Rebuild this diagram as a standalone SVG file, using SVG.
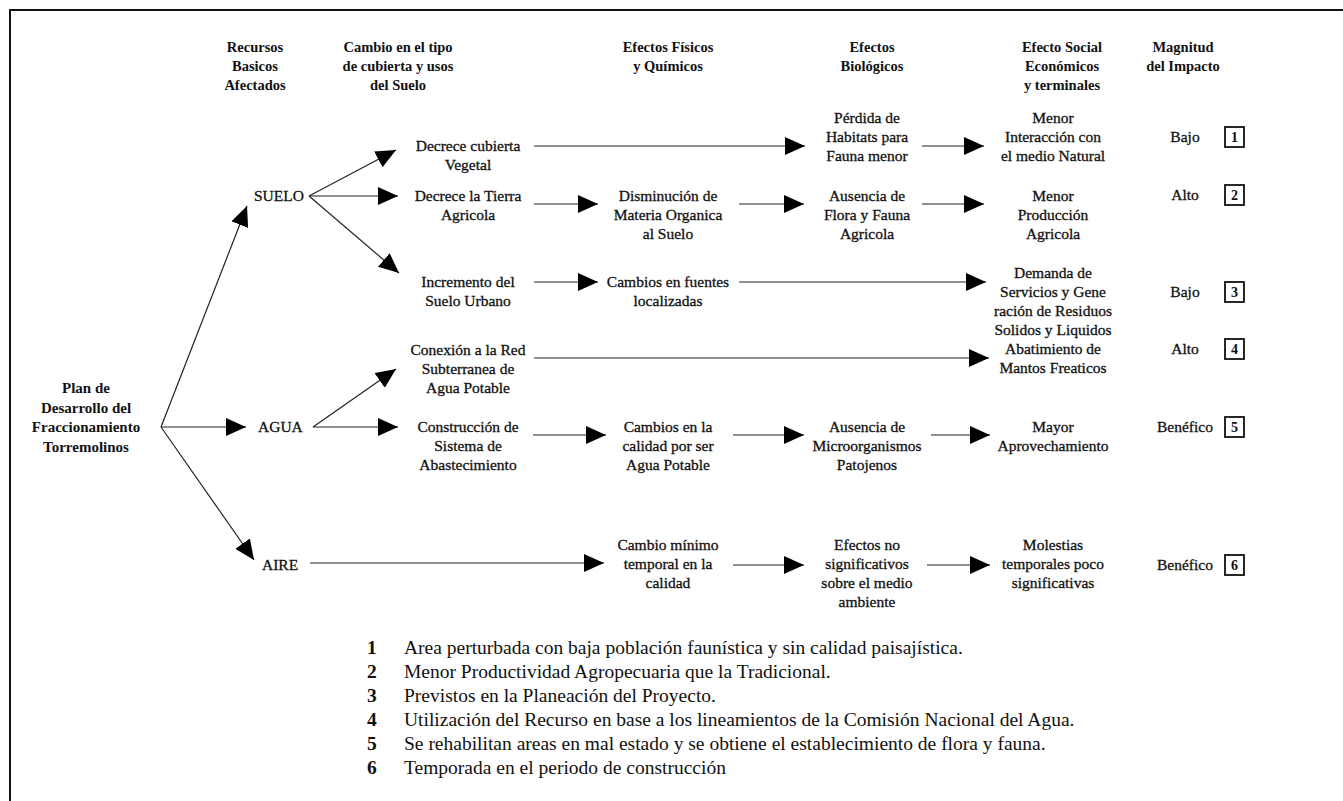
<svg xmlns="http://www.w3.org/2000/svg" width="1343" height="801" viewBox="0 0 1343 801">
<style>
text{font-family:"Liberation Serif","Times New Roman",serif;fill:#111}
.h{font-weight:bold;font-size:14.5px;text-anchor:middle}
.n{font-size:15.5px;text-anchor:middle;stroke:#111;stroke-width:0.3}
.pb{font-weight:bold;font-size:15px;text-anchor:middle}
.r{font-size:15.5px;stroke:#111;stroke-width:0.3}
.m{font-size:15.5px;text-anchor:middle;stroke:#111;stroke-width:0.3}
.bx{fill:none;stroke:#111;stroke-width:1.8}
.bn{font-size:14px;font-weight:bold;text-anchor:middle}
.c line{stroke:#222;stroke-width:1.2;fill:none;marker-end:url(#ah)}
.lg{font-size:19.5px}
.ln{font-size:19.5px;font-weight:bold}
.frame{stroke:#111;stroke-width:2;fill:none}
</style>
<defs>
<marker id="ah" markerUnits="userSpaceOnUse" markerWidth="20" markerHeight="18" refX="20" refY="9" orient="auto" viewBox="0 0 20 18"><path d="M0,0 L20,9 L0,18 z" fill="#000"/></marker>
</defs>
<rect width="1343" height="801" fill="#fff"/>
<path class="frame" d="M10,801 L10,10 L1343,10"/>

<g id="headers">
<text class="h"><tspan x="255" y="52">Recursos</tspan><tspan x="255" y="71">Basicos</tspan><tspan x="255" y="90">Afectados</tspan></text>
<text class="h"><tspan x="398" y="52">Cambio en el tipo</tspan><tspan x="398" y="71">de cubierta y usos</tspan><tspan x="398" y="90">del Suelo</tspan></text>
<text class="h"><tspan x="668" y="52">Efectos Físicos</tspan><tspan x="668" y="71">y Químicos</tspan></text>
<text class="h"><tspan x="872" y="52">Efectos</tspan><tspan x="872" y="71">Biológicos</tspan></text>
<text class="h"><tspan x="1062" y="52">Efecto Social</tspan><tspan x="1062" y="71">Económicos</tspan><tspan x="1062" y="90">y terminales</tspan></text>
<text class="h"><tspan x="1183" y="52">Magnitud</tspan><tspan x="1183" y="71">del Impacto</tspan></text>
</g>

<g id="plan"><text class="pb"><tspan x="86" y="393">Plan de</tspan><tspan x="86" y="413">Desarrollo del</tspan><tspan x="86" y="432">Fraccionamiento</tspan><tspan x="86" y="452">Torremolinos</tspan></text></g>

<g id="suelo"><text class="r" x="254" y="201">SUELO</text></g>
<g id="agua"><text class="r" x="258" y="432">AGUA</text></g>
<g id="aire"><text class="r" x="262" y="570">AIRE</text></g>

<g id="decrece-cubierta"><text class="n"><tspan x="468" y="151">Decrece cubierta</tspan><tspan x="468" y="170">Vegetal</tspan></text></g>
<g id="decrece-tierra"><text class="n"><tspan x="468" y="201">Decrece la Tierra</tspan><tspan x="468" y="220">Agricola</tspan></text></g>
<g id="incremento"><text class="n"><tspan x="468" y="287">Incremento del</tspan><tspan x="468" y="306">Suelo Urbano</tspan></text></g>
<g id="conexion"><text class="n"><tspan x="468" y="355">Conexión a la Red</tspan><tspan x="468" y="374">Subterranea de</tspan><tspan x="468" y="393">Agua Potable</tspan></text></g>
<g id="construccion"><text class="n"><tspan x="468" y="432">Construcción de</tspan><tspan x="468" y="451">Sistema de</tspan><tspan x="468" y="470">Abastecimiento</tspan></text></g>

<g id="disminucion"><text class="n"><tspan x="668" y="201">Disminución de</tspan><tspan x="668" y="220">Materia Organica</tspan><tspan x="668" y="239">al Suelo</tspan></text></g>
<g id="cambios-fuentes"><text class="n"><tspan x="668" y="287">Cambios en fuentes</tspan><tspan x="668" y="306">localizadas</tspan></text></g>
<g id="cambios-calidad"><text class="n"><tspan x="668" y="432">Cambios en la</tspan><tspan x="668" y="451">calidad por ser</tspan><tspan x="668" y="470">Agua Potable</tspan></text></g>
<g id="cambio-minimo"><text class="n"><tspan x="668" y="550">Cambio mínimo</tspan><tspan x="668" y="569">temporal en la</tspan><tspan x="668" y="588">calidad</tspan></text></g>

<g id="perdida"><text class="n"><tspan x="867" y="123">Pérdida de</tspan><tspan x="867" y="142">Habitats para</tspan><tspan x="867" y="161">Fauna menor</tspan></text></g>
<g id="ausencia-flora"><text class="n"><tspan x="867" y="201">Ausencia de</tspan><tspan x="867" y="220">Flora y Fauna</tspan><tspan x="867" y="239">Agricola</tspan></text></g>
<g id="ausencia-micro"><text class="n"><tspan x="867" y="432">Ausencia de</tspan><tspan x="867" y="451">Microorganismos</tspan><tspan x="867" y="470">Patojenos</tspan></text></g>
<g id="efectos-no"><text class="n"><tspan x="867" y="550">Efectos no</tspan><tspan x="867" y="569">significativos</tspan><tspan x="867" y="588">sobre el medio</tspan><tspan x="867" y="607">ambiente</tspan></text></g>

<g id="menor-interaccion"><text class="n"><tspan x="1053" y="123">Menor</tspan><tspan x="1053" y="142">Interacción con</tspan><tspan x="1053" y="161">el medio Natural</tspan></text></g>
<g id="menor-produccion"><text class="n"><tspan x="1053" y="201">Menor</tspan><tspan x="1053" y="220">Producción</tspan><tspan x="1053" y="239">Agricola</tspan></text></g>
<g id="demanda"><text class="n"><tspan x="1053" y="278">Demanda de</tspan><tspan x="1053" y="297">Servicios y Gene</tspan><tspan x="1053" y="316">ración de Residuos</tspan><tspan x="1053" y="335">Solidos y Liquidos</tspan></text></g>
<g id="abatimiento"><text class="n"><tspan x="1053" y="354">Abatimiento de</tspan><tspan x="1053" y="373">Mantos Freaticos</tspan></text></g>
<g id="mayor"><text class="n"><tspan x="1053" y="432">Mayor</tspan><tspan x="1053" y="451">Aprovechamiento</tspan></text></g>
<g id="molestias"><text class="n"><tspan x="1053" y="550">Molestias</tspan><tspan x="1053" y="569">temporales poco</tspan><tspan x="1053" y="588">significativas</tspan></text></g>

<g id="mag1"><text class="m" x="1185" y="142">Bajo</text><rect class="bx" x="1225" y="127" width="19" height="20"/><text class="bn" x="1234.5" y="142">1</text></g>
<g id="mag2"><text class="m" x="1185" y="200">Alto</text><rect class="bx" x="1225" y="185" width="19" height="20"/><text class="bn" x="1234.5" y="200">2</text></g>
<g id="mag3"><text class="m" x="1185" y="297">Bajo</text><rect class="bx" x="1225" y="282" width="19" height="20"/><text class="bn" x="1234.5" y="297">3</text></g>
<g id="mag4"><text class="m" x="1185" y="354">Alto</text><rect class="bx" x="1225" y="339" width="19" height="20"/><text class="bn" x="1234.5" y="354">4</text></g>
<g id="mag5"><text class="m" x="1185" y="432">Benéfico</text><rect class="bx" x="1225" y="417" width="19" height="20"/><text class="bn" x="1234.5" y="432">5</text></g>
<g id="mag6"><text class="m" x="1185" y="570">Benéfico</text><rect class="bx" x="1225" y="555" width="19" height="20"/><text class="bn" x="1234.5" y="570">6</text></g>

<g id="connectors" class="c">
<line x1="161" y1="427" x2="247" y2="206"/>
<line x1="161" y1="427" x2="246" y2="427"/>
<line x1="161" y1="427" x2="254" y2="560"/>
<line x1="309" y1="196" x2="396" y2="150"/>
<line x1="309" y1="196" x2="398" y2="196"/>
<line x1="309" y1="196" x2="399" y2="273"/>
<line x1="313" y1="427" x2="396" y2="369"/>
<line x1="313" y1="427" x2="398" y2="427"/>
<line x1="534" y1="146" x2="805" y2="146"/>
<line x1="922" y1="146" x2="984" y2="146"/>
<line x1="534" y1="204" x2="598" y2="204"/>
<line x1="739" y1="204" x2="804" y2="204"/>
<line x1="922" y1="204" x2="984" y2="204"/>
<line x1="534" y1="282" x2="598" y2="282"/>
<line x1="739" y1="282" x2="986" y2="282"/>
<line x1="534" y1="358" x2="989" y2="358"/>
<line x1="533" y1="435" x2="606" y2="435"/>
<line x1="733" y1="435" x2="804" y2="435"/>
<line x1="931" y1="435" x2="990" y2="435"/>
<line x1="310" y1="563" x2="604" y2="563"/>
<line x1="733" y1="565" x2="804" y2="565"/>
<line x1="927" y1="565" x2="990" y2="565"/>
</g>

<g id="legend">
<text class="ln" x="367" y="654">1</text><text class="lg" x="404" y="654">Area perturbada con baja población faunística y sin calidad paisajística.</text>
<text class="ln" x="367" y="678">2</text><text class="lg" x="404" y="678">Menor Productividad Agropecuaria que la Tradicional.</text>
<text class="ln" x="367" y="702">3</text><text class="lg" x="404" y="702">Previstos en la Planeación del Proyecto.</text>
<text class="ln" x="367" y="726">4</text><text class="lg" x="404" y="726">Utilización del Recurso en base a los lineamientos de la Comisión Nacional del Agua.</text>
<text class="ln" x="367" y="750">5</text><text class="lg" x="404" y="750">Se rehabilitan areas en mal estado y se obtiene el establecimiento de flora y fauna.</text>
<text class="ln" x="367" y="774">6</text><text class="lg" x="404" y="774">Temporada en el periodo de construcción</text>
</g>
</svg>
